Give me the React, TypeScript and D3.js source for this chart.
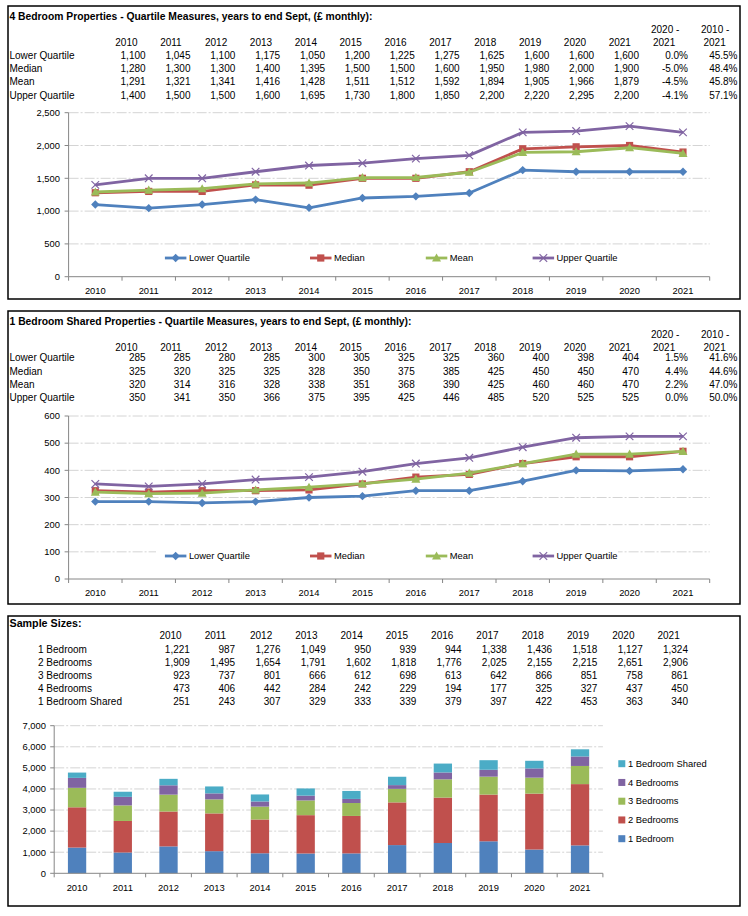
import * as d3 from 'd3';

// ---- data ----
const years = [2010, 2011, 2012, 2013, 2014, 2015, 2016, 2017, 2018, 2019, 2020, 2021];
const quartileRows = ['Lower Quartile', 'Median', 'Mean', 'Upper Quartile'];

const fourBedLower = [1100, 1045, 1100, 1175, 1050, 1200, 1225, 1275, 1625, 1600, 1600, 1600];
const fourBedMedian = [1280, 1300, 1300, 1400, 1395, 1500, 1500, 1600, 1950, 1980, 2000, 1900];
const fourBedMean = [1291, 1321, 1341, 1416, 1428, 1511, 1512, 1592, 1894, 1905, 1966, 1879];
const fourBedUpper = [1400, 1500, 1500, 1600, 1695, 1730, 1800, 1850, 2200, 2220, 2295, 2200];
const fourBedChange2020 = [0.0, -5.0, -4.5, -4.1];
const fourBedChange2010 = [45.5, 48.4, 45.8, 57.1];

const sharedLower = [285, 285, 280, 285, 300, 305, 325, 325, 360, 400, 398, 404];
const sharedMedian = [325, 320, 325, 325, 328, 350, 375, 385, 425, 450, 450, 470];
const sharedMean = [320, 314, 316, 328, 338, 351, 368, 390, 425, 460, 460, 470];
const sharedUpper = [350, 341, 350, 366, 375, 395, 425, 446, 485, 520, 525, 525];
const sharedChange2020 = [1.5, 4.4, 2.2, 0.0];
const sharedChange2010 = [41.6, 44.6, 47.0, 50.0];

const sampleKeys = ['1 Bedroom', '2 Bedrooms', '3 Bedrooms', '4 Bedrooms', '1 Bedroom Shared'];
const oneBed = [1221, 987, 1276, 1049, 950, 939, 944, 1338, 1436, 1518, 1127, 1324];
const twoBed = [1909, 1495, 1654, 1791, 1602, 1818, 1776, 2025, 2155, 2215, 2651, 2906];
const threeBed = [923, 737, 801, 666, 612, 698, 613, 642, 866, 851, 758, 861];
const fourBed = [473, 406, 442, 284, 242, 229, 194, 177, 325, 327, 437, 450];
const oneBedShared = [251, 243, 307, 329, 333, 339, 379, 397, 422, 453, 363, 340];

const fourBedTicks = [0, 500, 1000, 1500, 2000, 2500];
const sharedTicks = [0, 100, 200, 300, 400, 500, 600];
const sampleTicks = [0, 1000, 2000, 3000, 4000, 5000, 6000, 7000];

// ---- styles ----
const FONT = "'Liberation Sans', Arial, sans-serif";
const seriesStyle = [
  { color: '#4F81BD', marker: 'diamond' },
  { color: '#C0504D', marker: 'square' },
  { color: '#9BBB59', marker: 'triangle' },
  { color: '#8064A2', marker: 'x' },
];
const barColors = ['#4F81BD', '#C0504D', '#9BBB59', '#8064A2', '#4BACC6'];
const GRID = '#D4D4D4';
const AXIS = '#868686';
// plain hyphen for minus, like the spreadsheet
const locale = d3.formatLocale({ decimal: '.', thousands: ',', grouping: [3], currency: ['£', ''], minus: '-' });
const comma = locale.format(',');
const pct = (v: number) => locale.format('.1f')(v) + '%';

function Marker({ type, x, y, color }: { type: string; x: number; y: number; color: string }) {
  if (type === 'diamond')
    return <path d={`M${x},${y - 4.2}L${x + 4.2},${y}L${x},${y + 4.2}L${x - 4.2},${y}Z`} fill={color} />;
  if (type === 'square') return <rect x={x - 3.6} y={y - 3.6} width={7.2} height={7.2} fill={color} />;
  if (type === 'triangle')
    return <path d={`M${x},${y - 4.5}L${x + 4.5},${y + 3.6}L${x - 4.5},${y + 3.6}Z`} fill={color} />;
  return (
    <g stroke={color} strokeWidth={1.2}>
      <line x1={x - 3.8} y1={y - 3.8} x2={x + 3.8} y2={y + 3.8} />
      <line x1={x - 3.8} y1={y + 3.8} x2={x + 3.8} y2={y - 3.8} />
    </g>
  );
}

function QuartileTable({ title, titleWidth, top, rowYs, series, ch2020, ch2010, fmt }: any) {
  const colRight = d3.scaleLinear().domain([0, 11]).range([145.6, 639]);
  return (
    <g fontFamily={FONT} fontSize={10} fill="#000">
      <text x={9.5} y={top} dy="0.35em" fontWeight="bold" textLength={titleWidth} lengthAdjust="spacingAndGlyphs">
        {title}
      </text>
      <text x={651} y={top + 13} dy="0.35em">2020 -</text>
      <text x={701} y={top + 13} dy="0.35em">2010 -</text>
      {years.map((yr, i) => (
        <text key={yr} x={colRight(i) - 30.3} y={top + 26.5} dy="0.35em">{yr}</text>
      ))}
      <text x={653} y={top + 26.5} dy="0.35em">2021</text>
      <text x={703.5} y={top + 26.5} dy="0.35em">2021</text>
      {quartileRows.map((name, r) => (
        <g key={name}>
          <text x={9.5} y={rowYs[r]} dy="0.35em">{name}</text>
          {series[r].map((v: number, i: number) => (
            <text key={i} x={colRight(i)} y={rowYs[r]} dy="0.35em" textAnchor="end">{fmt(v)}</text>
          ))}
          <text x={688} y={rowYs[r]} dy="0.35em" textAnchor="end">{pct(ch2020[r])}</text>
          <text x={737.5} y={rowYs[r]} dy="0.35em" textAnchor="end">{pct(ch2010[r])}</text>
        </g>
      ))}
    </g>
  );
}

function LineChart({ series, ticks, yTop, yBottom, legendY }: any) {
  const x = d3.scaleBand<number>().domain(years).range([68.6, 709.7]);
  const y = d3.scaleLinear().domain([0, ticks[ticks.length - 1]]).range([yBottom, yTop]);
  const cx = (yr: number) => (x(yr) as number) + x.bandwidth() / 2;
  const line = d3.line<number>().x((_, i) => cx(years[i])).y((d) => y(d));
  const legendStarts = [164.9, 310, 425.8, 532.6];
  return (
    <g fontFamily={FONT} fontSize={9.4}>
      {ticks.map((t: number) => (
        <g key={t}>
          {t > 0 && (
            <line x1={68.6} x2={709.7} y1={y(t)} y2={y(t)} stroke={GRID} strokeDasharray="10 2 2 2" />
          )}
          <line x1={64.6} x2={68.6} y1={y(t)} y2={y(t)} stroke={AXIS} />
          <text x={60} y={y(t)} dy="0.35em" textAnchor="end">{comma(t)}</text>
        </g>
      ))}
      <line x1={68.6} x2={68.6} y1={yTop} y2={yBottom} stroke={AXIS} />
      <line x1={68.6} x2={709.7} y1={yBottom} y2={yBottom} stroke={AXIS} />
      {years.map((yr) => (
        <g key={yr}>
          <line x1={x(yr)} x2={x(yr)} y1={yBottom} y2={yBottom + 4} stroke={AXIS} />
          <text x={cx(yr)} y={yBottom + 14.2} dy="0.35em" textAnchor="middle">{yr}</text>
        </g>
      ))}
      <line x1={709.7} x2={709.7} y1={yBottom} y2={yBottom + 4} stroke={AXIS} />
      <rect x={156} y={legendY - 9} width={462} height={18} fill="#fff" />
      {series.map((s: any, k: number) => (
        <g key={k}>
          <path d={line(s.values) || ''} fill="none" stroke={seriesStyle[k].color} strokeWidth={2.8} strokeLinejoin="round" />
          {s.values.map((v: number, i: number) => (
            <Marker key={i} type={seriesStyle[k].marker} x={cx(years[i])} y={y(v)} color={seriesStyle[k].color} />
          ))}
        </g>
      ))}
      {series.map((s: any, k: number) => (
        <g key={'lg' + k}>
          <line x1={legendStarts[k]} x2={legendStarts[k] + 21.5} y1={legendY} y2={legendY} stroke={seriesStyle[k].color} strokeWidth={2.8} />
          <Marker type={seriesStyle[k].marker} x={legendStarts[k] + 10.75} y={legendY} color={seriesStyle[k].color} />
          <text x={legendStarts[k] + 24} y={legendY} dy="0.35em">{s.name}</text>
        </g>
      ))}
    </g>
  );
}

function SampleTable() {
  const rows = [oneBed, twoBed, threeBed, fourBed, oneBedShared];
  const colRight = d3.scaleLinear().domain([0, 11]).range([189.9, 688]);
  const rowYs = [649, 662, 675, 688, 701];
  return (
    <g fontFamily={FONT} fontSize={10} fill="#000">
      <text x={9.5} y={623} dy="0.35em" fontWeight="bold" textLength={72} lengthAdjust="spacingAndGlyphs">Sample Sizes:</text>
      {years.map((yr, i) => (
        <text key={yr} x={colRight(i) - 30.5} y={635.5} dy="0.35em">{yr}</text>
      ))}
      {sampleKeys.map((name, r) => (
        <g key={name}>
          <text x={38} y={rowYs[r]} dy="0.35em">{name}</text>
          {rows[r].map((v, i) => (
            <text key={i} x={colRight(i)} y={rowYs[r]} dy="0.35em" textAnchor="end">{comma(v)}</text>
          ))}
        </g>
      ))}
    </g>
  );
}

function StackedBars() {
  const table = years.map((yr, i) => ({
    year: yr,
    '1 Bedroom': oneBed[i],
    '2 Bedrooms': twoBed[i],
    '3 Bedrooms': threeBed[i],
    '4 Bedrooms': fourBed[i],
    '1 Bedroom Shared': oneBedShared[i],
  }));
  const stacked = d3.stack<any>().keys(sampleKeys)(table);
  const x = d3.scaleBand<number>().domain(years).range([54.2, 602.9]);
  const y = d3.scaleLinear().domain([0, 7000]).range([873.3, 725.7]);
  const bw = 18.3;
  const legendYs = d3.scaleLinear().domain([0, 4]).range([838.7, 763.7]);
  return (
    <g fontFamily={FONT} fontSize={9.4}>
      {sampleTicks.map((t) => (
        <g key={t}>
          {t > 0 && <line x1={54.2} x2={602.9} y1={y(t)} y2={y(t)} stroke={GRID} strokeDasharray="10 2 2 2" />}
          <line x1={50.2} x2={54.2} y1={y(t)} y2={y(t)} stroke={AXIS} />
          <text x={46} y={y(t)} dy="0.35em" textAnchor="end">{comma(t)}</text>
        </g>
      ))}
      {stacked.map((layer, k) => (
        <g key={sampleKeys[k]} fill={barColors[k]}>
          {layer.map((d: any) => (
            <rect
              key={d.data.year}
              x={(x(d.data.year) as number) + x.bandwidth() / 2 - bw / 2}
              y={y(d[1])}
              width={bw}
              height={y(d[0]) - y(d[1])}
            />
          ))}
        </g>
      ))}
      <line x1={54.2} x2={54.2} y1={y(7000)} y2={y(0)} stroke={AXIS} />
      <line x1={54.2} x2={602.9} y1={y(0)} y2={y(0)} stroke={AXIS} />
      {years.map((yr) => (
        <g key={yr}>
          <line x1={x(yr)} x2={x(yr)} y1={y(0)} y2={y(0) + 4} stroke={AXIS} />
          <text x={(x(yr) as number) + x.bandwidth() / 2} y={887.3} dy="0.35em" textAnchor="middle">{yr}</text>
        </g>
      ))}
      <line x1={602.9} x2={602.9} y1={y(0)} y2={y(0) + 4} stroke={AXIS} />
      {sampleKeys.map((name, k) => (
        <g key={name}>
          <rect x={618.3} y={legendYs(k) - 3.5} width={7} height={7} fill={barColors[k]} />
          <text x={628} y={legendYs(k)} dy="0.35em">{name}</text>
        </g>
      ))}
    </g>
  );
}

export default function App() {
  return (
    <svg
      width={748}
      height={916}
      style={{ position: 'absolute', left: 0, top: 0, background: '#fff' }}
    >
      <rect x={0} y={0} width={748} height={916} fill="#fff" />
      <rect x={8} y={6} width={732} height={293} fill="none" stroke="#000" strokeWidth={1.5} />
      <rect x={8} y={311} width={732} height={293} fill="none" stroke="#000" strokeWidth={1.5} />
      <rect x={8} y={616} width={732} height={290} fill="none" stroke="#000" strokeWidth={1.5} />

      <QuartileTable
        title="4 Bedroom Properties - Quartile Measures, years to end Sept, (£ monthly):"
        titleWidth={363}
        top={16.3}
        rowYs={[55, 68.3, 81.7, 95]}
        series={[fourBedLower, fourBedMedian, fourBedMean, fourBedUpper]}
        ch2020={fourBedChange2020}
        ch2010={fourBedChange2010}
        fmt={comma}
      />
      <LineChart
        series={[
          { name: quartileRows[0], values: fourBedLower },
          { name: quartileRows[1], values: fourBedMedian },
          { name: quartileRows[2], values: fourBedMean },
          { name: quartileRows[3], values: fourBedUpper },
        ]}
        ticks={fourBedTicks}
        yTop={112.7}
        yBottom={276.7}
        legendY={258}
      />

      <QuartileTable
        title="1 Bedroom Shared Properties - Quartile Measures, years to end Sept, (£ monthly):"
        titleWidth={402}
        top={321}
        rowYs={[357.7, 371, 384.3, 397.7]}
        series={[sharedLower, sharedMedian, sharedMean, sharedUpper]}
        ch2020={sharedChange2020}
        ch2010={sharedChange2010}
        fmt={comma}
      />
      <LineChart
        series={[
          { name: quartileRows[0], values: sharedLower },
          { name: quartileRows[1], values: sharedMedian },
          { name: quartileRows[2], values: sharedMean },
          { name: quartileRows[3], values: sharedUpper },
        ]}
        ticks={sharedTicks}
        yTop={416}
        yBottom={579}
        legendY={556}
      />

      <SampleTable />
      <StackedBars />
    </svg>
  );
}
